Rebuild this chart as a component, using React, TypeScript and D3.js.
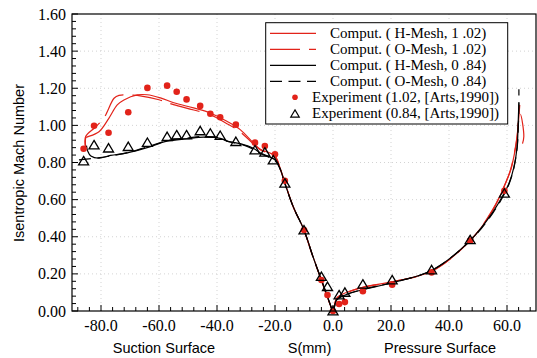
import React from 'react';
import * as d3 from 'd3';

// S(mm) vs isentropic Mach number
const hMesh102: [number, number][] = [
  [-85.3, 0.885], [-85.2, 0.935], [-84.7, 0.938], [-80.7, 0.966], [-77.3, 1.038], [-74.4, 1.11],
  [-72.1, 1.137], [-67.5, 1.164], [-64.1, 1.165], [-59.5, 1.148], [-54.9, 1.122], [-48.1, 1.094],
  [-42.3, 1.067], [-36.6, 1.022], [-32.0, 0.977], [-27.5, 0.906], [-25.2, 0.873], [-20, 0.835],
  [-18.3, 0.772], [-16.6, 0.692], [-13.7, 0.562], [-10, 0.436], [-6.9, 0.293], [-4, 0.167],
  [-2.3, 0.09], [-1.1, 0.04], [0, 0], [1.2, 0.068], [3.4, 0.092], [10.3, 0.128], [20.6, 0.158],
  [34.3, 0.217], [47.5, 0.383], [55, 0.54], [59.5, 0.688], [61.3, 0.76], [62.6, 0.85],
  [63.5, 0.939], [64.1, 1.047], [64.4, 1.11],
];
const oMesh102: [number, number][] = [
  [-85.4, 0.885], [-85.3, 0.94], [-82, 0.99], [-79, 1.04], [-75.5, 1.146], [-73.8, 1.162],
  [-70, 1.163], [-66, 1.158], [-60, 1.138], [-55, 1.112], [-48, 1.083], [-42, 1.055],
  [-37, 1.013], [-32, 0.965], [-27.5, 0.9], [-25, 0.868], [-20, 0.832], [-18.3, 0.77],
  [-16.6, 0.69], [-13.7, 0.56], [-10, 0.434], [-6.9, 0.29], [-4, 0.165], [-2.3, 0.088],
  [-1.1, 0.04], [0, 0], [1.2, 0.066], [3.4, 0.09], [10.3, 0.127], [20.6, 0.157], [34.3, 0.216],
  [47.5, 0.383], [55, 0.545], [59.5, 0.69], [61.3, 0.765], [62.6, 0.855], [63.5, 0.945],
  [64.1, 1.04], [64.6, 1.06], [65.8, 0.94], [65.2, 0.894],
];
const hMesh084: [number, number][] = [
  [-85.0, 0.891], [-84.6, 0.862], [-83.5, 0.835], [-80.7, 0.823], [-76.7, 0.838], [-70.9, 0.852],
  [-64.1, 0.88], [-57.2, 0.915], [-50.3, 0.928], [-44.6, 0.937], [-38.9, 0.93], [-36.6, 0.915],
  [-32, 0.902], [-27.5, 0.877], [-25.2, 0.852], [-20, 0.814], [-18.3, 0.769], [-16.6, 0.688],
  [-13.7, 0.562], [-10, 0.436], [-6.9, 0.293], [-4, 0.167], [-2.3, 0.095], [-1.1, 0.041], [0, 0],
  [1.3, 0.06], [4, 0.085], [10.2, 0.115], [20.4, 0.152], [34, 0.218], [47.3, 0.38], [55, 0.53],
  [59, 0.634], [60.7, 0.688], [62.4, 0.777], [63.5, 0.885], [63.8, 0.993], [64.1, 1.119],
];
const oMesh084: [number, number][] = [
  [-87.6, 0.814], [-81.8, 0.824], [-76.7, 0.835], [-69.8, 0.857], [-64, 0.885], [-57, 0.918],
  [-50, 0.932], [-45, 0.94], [-39, 0.933], [-36, 0.912], [-32, 0.9], [-27.5, 0.872], [-25, 0.848],
  [-20, 0.81], [-18.3, 0.767], [-16.6, 0.686], [-13.7, 0.56], [-10, 0.435], [-6.9, 0.292],
  [-4, 0.168], [-2.3, 0.096], [-1.1, 0.042], [0, 0], [1.3, 0.061], [4, 0.086], [10.2, 0.116],
  [20.4, 0.153], [34, 0.219], [47.3, 0.378], [55, 0.525], [59, 0.628], [60.7, 0.684],
  [62.4, 0.772], [63.5, 0.88], [63.9, 0.99], [64.1, 1.12], [64.1, 1.195],
];
const exp102: [number, number][] = [
  [-86.0, 0.874], [-82.4, 0.998], [-77.4, 0.96], [-70.6, 1.071], [-64.0, 1.202], [-57.2, 1.214],
  [-53.9, 1.181], [-50.5, 1.14], [-45.8, 1.105], [-42.3, 1.063], [-38.9, 1.044], [-33.5, 1.004],
  [-26.9, 0.907], [-23.5, 0.889], [-20.0, 0.844], [-16.6, 0.702], [-10, 0.436], [-4, 0.167],
  [-1.9, 0.086], [0, 0], [2.1, 0.038], [4.1, 0.048], [10.3, 0.106], [20.4, 0.142], [34, 0.208],
  [47.3, 0.379], [59.1, 0.648],
];
const exp084: [number, number][] = [
  [-86, 0.808], [-82.4, 0.894], [-77.4, 0.877], [-70.6, 0.885], [-64, 0.907], [-57.2, 0.939],
  [-53.9, 0.948], [-50.5, 0.948], [-45.8, 0.97], [-42.3, 0.957], [-38.9, 0.945], [-33.5, 0.912],
  [-26.9, 0.867], [-23.5, 0.855], [-20.6, 0.813], [-16.6, 0.688], [-10, 0.436], [-4, 0.185],
  [-1.9, 0.131], [0, 0], [2.1, 0.086], [4.1, 0.1], [10.3, 0.144], [20.4, 0.167], [34, 0.221],
  [47.3, 0.383], [59.1, 0.634],
];

const xTicks = [-80, -60, -40, -20, 0, 20, 40, 60];
const yTicks = [0, 0.2, 0.4, 0.6, 0.8, 1.0, 1.2, 1.4, 1.6];
const legendLabels = [
  'Comput. ( H-Mesh, 1 .02)',
  'Comput. ( O-Mesh, 1 .02)',
  'Comput. ( H-Mesh, 0 .84)',
  'Comput. ( O-Mesh, 0 .84)',
  'Experiment (1.02, [Arts,1990])',
  'Experiment (0.84, [Arts,1990])',
];

const W = 537;
const H = 358;
const RED = '#e2231a';
const serif = '"Liberation Serif", "Times New Roman", serif';
const sans = '"Liberation Sans", Arial, sans-serif';

const x = d3.scaleLinear().domain([-90, 70]).range([72, 536]);
const y = d3.scaleLinear().domain([0, 1.6]).range([311, 14]);

const line = d3
  .line<[number, number]>()
  .x(d => x(d[0]))
  .y(d => y(d[1]))
  .curve(d3.curveCatmullRom.alpha(0.5));

const tri = 'M0,-4.6L5,3.8L-5,3.8Z';

const App = () => {
  const xMinor = d3.range(-88, 70, 4);
  const yMinor = d3.range(0, 1.6001, 0.04);
  const [x0, x1] = x.range();
  const [yb, yt] = y.range();

  const series = [
    { data: hMesh102, color: RED, dash: null },
    { data: oMesh102, color: RED, dash: '30,9' },
    { data: hMesh084, color: '#000', dash: null },
    { data: oMesh084, color: '#000', dash: '12,6.5' },
  ];

  return (
    <svg width={W} height={H} style={{ position: 'absolute', left: 0, top: 0, background: '#fff' }}>
      {/* grid */}
      <g stroke="#c8c8c8" strokeWidth={0.8} strokeDasharray="1,3">
        {xTicks.map(t => (
          <line key={'gx' + t} x1={x(t)} x2={x(t)} y1={yb} y2={yt} />
        ))}
        {yTicks.slice(1, -1).map(t => (
          <line key={'gy' + t} x1={x0} x2={x1} y1={y(t)} y2={y(t)} />
        ))}
      </g>

      {/* ticks */}
      <g stroke="#000" strokeWidth={1}>
        {xMinor.map(t => (
          <line key={'mx' + t} x1={x(t)} x2={x(t)} y1={yb} y2={yb - (t % 20 === 0 ? 6 : 4)} />
        ))}
        {yMinor.map((t, i) => (
          <line key={'my' + i} x1={x0} x2={x0 + (i % 5 === 0 ? 6 : 4)} y1={y(t)} y2={y(t)} />
        ))}
      </g>

      {/* curves */}
      {series.map((s, i) => (
        <path
          key={'s' + i}
          d={line(s.data) || ''}
          fill="none"
          stroke={s.color}
          strokeWidth={1.2}
          strokeDasharray={s.dash || undefined}
        />
      ))}

      {exp102.map((d, i) => (
        <circle key={'e1' + i} cx={x(d[0])} cy={y(d[1])} r={3.3} fill={RED} />
      ))}
      {exp084.map((d, i) => (
        <path
          key={'e2' + i}
          d={tri}
          transform={`translate(${x(d[0])},${y(d[1])})`}
          fill="none"
          stroke="#000"
          strokeWidth={1.3}
        />
      ))}

      {/* frame */}
      <rect x={x0} y={yt} width={x1 - x0} height={yb - yt} fill="none" stroke="#000" strokeWidth={1.2} />

      {/* tick labels */}
      <g fontFamily={serif} fontSize={16} fill="#000">
        {yTicks.map(t => (
          <text key={'ly' + t} x={66} y={y(t) + 5.5} textAnchor="end">
            {t.toFixed(2)}
          </text>
        ))}
        {xTicks.map(t => (
          <text key={'lx' + t} x={x(t)} y={331} textAnchor="middle">
            {t.toFixed(1)}
          </text>
        ))}
      </g>

      {/* axis titles */}
      <g fontFamily={sans} fontSize={14.5} fill="#000">
        <text transform="translate(24,163) rotate(-90)" textAnchor="middle">
          Isentropic Mach Number
        </text>
        <text x={164} y={353} textAnchor="middle">Suction Surface</text>
        <text x={309.5} y={353} textAnchor="middle">S(mm)</text>
        <text x={440} y={353} textAnchor="middle">Pressure Surface</text>
      </g>

      {/* legend */}
      <g>
        <rect x={265.7} y={22.7} width={242} height={101.3} fill="#fff" stroke="#000" strokeWidth={1} />
        {series.map((s, i) => (
          <line
            key={'ll' + i}
            x1={270}
            x2={316}
            y1={33.3 + i * 16}
            y2={33.3 + i * 16}
            stroke={s.color}
            strokeWidth={1.2}
            strokeDasharray={s.dash || undefined}
          />
        ))}
        <circle cx={295} cy={97.3} r={2.8} fill={RED} />
        <path d={tri} transform="translate(295,113.8) scale(0.85)" fill="none" stroke="#000" strokeWidth={1.4} />
        {legendLabels.map((l, i) => (
          <text
            key={'lt' + i}
            x={i < 4 ? 330 : 312}
            y={33.3 + i * 16 + 5}
            fontFamily={serif}
            fontSize={15}
            fill="#000"
          >
            {l}
          </text>
        ))}
      </g>
    </svg>
  );
};

export default App;
